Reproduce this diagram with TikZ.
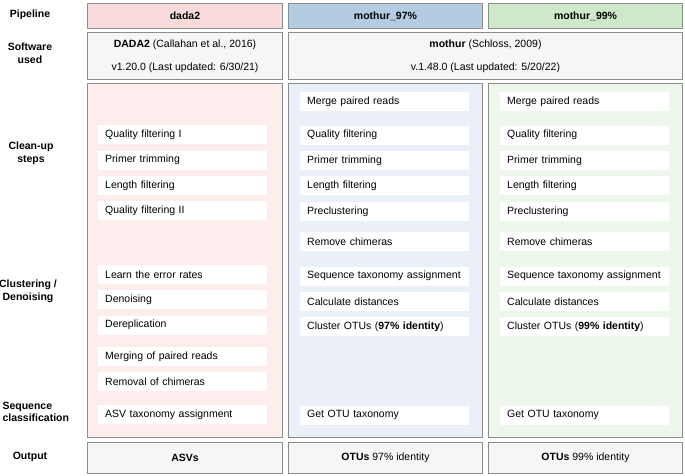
\documentclass[tikz,border=0pt]{standalone}
\usepackage{fontspec}
\setmainfont{Liberation Sans}
\usetikzlibrary{positioning}

\definecolor{edgegray}{RGB}{140,140,140}
\definecolor{boxgray}{RGB}{246,246,246}
\definecolor{dadahead}{RGB}{250,219,219}
\definecolor{dadapanel}{RGB}{253,237,236}
\definecolor{mhead97}{RGB}{180,204,226}
\definecolor{mpanel97}{RGB}{235,240,248}
\definecolor{mhead99}{RGB}{206,233,201}
\definecolor{mpanel99}{RGB}{237,247,236}

\begin{document}
\begin{tikzpicture}[x=1pt, y=-1pt,
    every node/.style={font=\fontsize{10.5}{12.6}\selectfont},
    rowlabel/.style={font=\fontsize{10.5}{12.6}\selectfont\bfseries, align=center},
    header/.style={draw=edgegray, line width=1pt, minimum height=25pt, anchor=north west,
        font=\fontsize{10.5}{12.6}\selectfont\bfseries},
    swbox/.style={draw=edgegray, line width=1pt, fill=boxgray, minimum height=47pt,
        anchor=north west, align=center},
    panel/.style={draw=edgegray, line width=1pt, minimum height=354pt, anchor=north west},
    stepbox/.style={fill=white, minimum height=19pt, text width=155pt, inner xsep=7pt,
        inner ysep=0pt, align=left},
    node distance=6pt]
\useasboundingbox (0,0) rectangle (685,475);

% row labels
\node [rowlabel] (lpipe) at (30,15) {Pipeline};
\node [rowlabel] (lsoft) at (30,53) {Software\\used};
\node [rowlabel] (lclean) at (31,153) {Clean-up\\steps};
\node [rowlabel] (lclust) at (28,291) {Clustering /\\Denoising};
\node [rowlabel, align=left, anchor=west] (lseq) at (-1,412) {Sequence\\classification};
\node [rowlabel] (lout) at (30,457) {Output};

% pipelines
\node [header, fill=dadahead, minimum width=195pt] (hdada) at (87,3) {dada2};
\node [header, fill=mhead97, minimum width=194pt] (hm97) at (288,3) {mothur\_97\%};
\node [header, fill=mhead99, minimum width=194pt] (hm99) at (488,3) {mothur\_99\%};

% software
\node [swbox, minimum width=195pt] (sdada) at (87,32)
    {\textbf{DADA2} (Callahan et al., 2016)\\[10pt] v1.20.0 (Last updated: 6/30/21)};
\node [swbox, minimum width=394pt] (smothur) at (288,32)
    {\textbf{mothur} (Schloss, 2009)\\[10pt] v.1.48.0 (Last updated: 5/20/22)};

% panels
\node [panel, fill=dadapanel, minimum width=195pt] (pdada) at (87,83) {};
\node [panel, fill=mpanel97, minimum width=194pt] (pm97) at (288,83) {};
\node [panel, fill=mpanel99, minimum width=194pt] (pm99) at (488,83) {};

% dada2 steps
\node [stepbox, anchor=north west] (d1) at (98,125) {Quality filtering I};
\node [stepbox, below=of d1] (d2) {Primer trimming};
\node [stepbox, below=of d2] (d3) {Length filtering};
\node [stepbox, below=of d3] (d4) {Quality filtering II};
\node [stepbox, below=44pt of d4] (d5) {Learn the error rates};
\node [stepbox, below=of d5] (d6) {Denoising};
\node [stepbox, below=of d6] (d7) {Dereplication};
\node [stepbox, below=12pt of d7] (d8) {Merging of paired reads};
\node [stepbox, below=of d8] (d9) {Removal of chimeras};
\node [stepbox, below=13pt of d9] (d10) {ASV taxonomy assignment};

% mothur_97 steps
\node [stepbox, anchor=north west] (a1) at (300,92) {Merge paired reads};
\node [stepbox, below=14pt of a1] (a2) {Quality filtering};
\node [stepbox, below=of a2] (a3) {Primer trimming};
\node [stepbox, below=of a3] (a4) {Length filtering};
\node [stepbox, below=of a4] (a5) {Preclustering};
\node [stepbox, below=11pt of a5] (a6) {Remove chimeras};
\node [stepbox, below=15pt of a6] (a7) {Sequence taxonomy assignment};
\node [stepbox, below=of a7] (a8) {Calculate distances};
\node [stepbox, below=of a8] (a9) {Cluster OTUs (\textbf{97\% identity})};
\node [stepbox, below=69pt of a9] (a10) {Get OTU taxonomy};

% mothur_99 steps
\node [stepbox, anchor=north west] (b1) at (500,92) {Merge paired reads};
\node [stepbox, below=14pt of b1] (b2) {Quality filtering};
\node [stepbox, below=of b2] (b3) {Primer trimming};
\node [stepbox, below=of b3] (b4) {Length filtering};
\node [stepbox, below=of b4] (b5) {Preclustering};
\node [stepbox, below=11pt of b5] (b6) {Remove chimeras};
\node [stepbox, below=15pt of b6] (b7) {Sequence taxonomy assignment};
\node [stepbox, below=of b7] (b8) {Calculate distances};
\node [stepbox, below=of b8] (b9) {Cluster OTUs (\textbf{99\% identity})};
\node [stepbox, below=69pt of b9] (b10) {Get OTU taxonomy};

% output
\node [swbox, minimum width=195pt, minimum height=31pt] (odada) at (87,442) {\textbf{ASVs}};
\node [swbox, minimum width=194pt, minimum height=31pt] (om97) at (288,442) {\textbf{OTUs} 97\% identity};
\node [swbox, minimum width=194pt, minimum height=31pt] (om99) at (488,442) {\textbf{OTUs} 99\% identity};

\end{tikzpicture}
\end{document}
